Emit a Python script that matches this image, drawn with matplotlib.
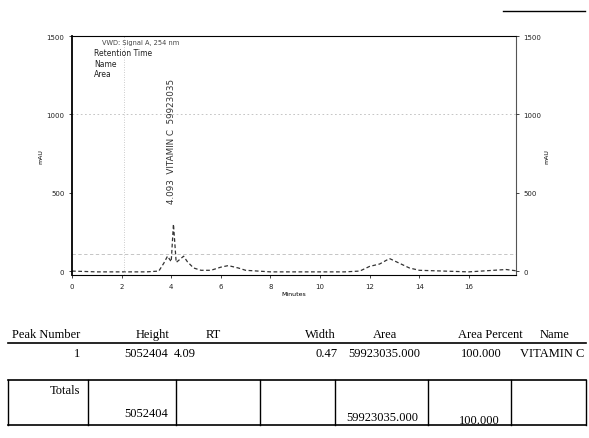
import matplotlib.pyplot as plt
from matplotlib.lines import Line2D

# chromatogram trace (minutes, mAU)
time_min = [0, 1, 2, 3, 3.5, 3.7, 3.85, 4.0, 4.09, 4.2, 4.35, 4.5, 4.65, 4.9,
            5.2, 5.6, 6.0, 6.3, 6.7, 7.0, 7.5, 8, 9, 10, 11, 11.6, 12.0, 12.4,
            12.8, 13.2, 13.6, 14, 15, 16, 17, 17.5, 18]
signal_mau = [0, -5, -5, -5, 0, 50, 95, 60, 300, 55, 75, 95, 60, 20,
              5, 5, 25, 35, 20, 5, 0, -5, -5, -5, -5, 0, 30, 45,
              80, 50, 20, 5, 0, -5, 5, 10, 0]

peak_rt = 4.093
peak_name = "VITAMIN C"
peak_area = 59923035

x_ticks = [0, 2, 4, 6, 8, 10, 12, 14, 16]
y_ticks = [0, 500, 1000, 1500]

headers = ["Peak Number", "Height", "RT", "Width", "Area", "Area Percent", "Name"]
row = ["1", "5052404", "4.09", "0.47", "59923035.000", "100.000", "VITAMIN C"]
totals = ["Totals", "5052404", "", "", "59923035.000", "100.000", ""]

W, H = 589, 439
fig = plt.figure(figsize=(W / 100, H / 100), dpi=100)
fig.patch.set_facecolor('white')


def fx(px):
    return px / W


def fy(py):
    return 1 - py / H


ax = fig.add_axes([fx(72), fy(276), fx(516) - fx(72), fy(37) - fy(276)])
ax.plot(time_min, signal_mau, color='#333333', lw=0.9, ls=(0, (3, 2)))
ax.set_xlim(0, 17.9)
ax.set_ylim(-25, 1500)
ax.set_xticks(x_ticks)
ax.set_yticks(y_ticks)
ax.tick_params(labelsize=5, length=2, width=0.6, colors='#222222')
ax.set_xlabel("Minutes", fontsize=4.5, labelpad=2)
ax.set_ylabel("mAU", fontsize=4.5, labelpad=2)
for s in ['top', 'right', 'bottom']:
    ax.spines[s].set_linewidth(0.8)
ax.spines['left'].set_linewidth(1.3)
ax.spines['right'].set_color('#555555')

# faint grid / guide lines from the printout
ax.axhline(1000, color='#bbbbbb', lw=0.6, ls=(0, (2, 3)))
ax.axhline(110, color='#bbbbbb', lw=0.6, ls=(0, (4, 3)))
ax.axvline(2.1, color='#bbbbbb', lw=0.6, ls=(0, (1, 2)))

axr = ax.twinx()
axr.set_ylim(ax.get_ylim())
axr.set_yticks(y_ticks)
axr.tick_params(labelsize=5, length=2, width=0.6, colors='#222222')
axr.set_ylabel("mAU", fontsize=4.5, labelpad=2)
for s in axr.spines.values():
    s.set_visible(False)

ax.text(peak_rt - 0.1, 1235, f"{peak_rt:.3f}  {peak_name}  {peak_area}",
        rotation=90, fontsize=6.3, ha='center', va='top', color='#333333')

ax.text(1.2, 1480, "VWD: Signal A, 254 nm", fontsize=4.8, va='top', color='#444444')
ax.text(0.9, 1425, "Retention Time\nName\nArea", fontsize=5.5, va='top',
        linespacing=1.25, color='#222222')

fig.add_artist(Line2D([fx(503), fx(585)], [fy(12), fy(12)], color='black', lw=1.0))

# results table
serif = 'Liberation Serif'
head_x = [80, 170, 213, 336, 385, 490, 555]
head_ha = ['right', 'right', 'center', 'right', 'center', 'center', 'center']
for t, x, ha in zip(headers, head_x, head_ha):
    fig.text(fx(x), fy(335), t, family=serif, fontsize=9, ha=ha, va='center')
fig.add_artist(Line2D([fx(8), fx(586)], [fy(344), fy(344)], color='black', lw=1.2))

row_x = [80, 168, 174, 338, 420, 502, 584]
row_ha = ['right', 'right', 'left', 'right', 'right', 'right', 'right']
for t, x, ha in zip(row, row_x, row_ha):
    fig.text(fx(x), fy(354), t, family=serif, fontsize=9, ha=ha, va='center')

# totals box
top, bot = 381, 426
fig.add_artist(Line2D([fx(8), fx(586)], [fy(top), fy(top)], color='black', lw=1.2))
fig.add_artist(Line2D([fx(8), fx(586)], [fy(bot), fy(bot)], color='black', lw=1.2))
for x in [8, 88, 176, 260, 335, 428, 511, 586]:
    fig.add_artist(Line2D([fx(x), fx(x)], [fy(top), fy(bot)], color='black', lw=1.0))
fig.text(fx(80), fy(391), totals[0], family=serif, fontsize=9, ha='right', va='center')
tot_x = [None, 168, None, None, 418, 500, None]
tot_y = [None, 414, None, None, 418, 421, None]
for t, x, y in zip(totals, tot_x, tot_y):
    if x is not None:
        fig.text(fx(x), fy(y), t, family=serif, fontsize=9, ha='right', va='center')

fig.savefig("out.png", dpi=100)
